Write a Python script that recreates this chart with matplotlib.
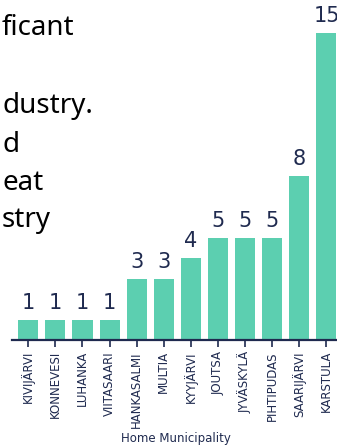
import matplotlib.pyplot as plt

# data
municipios = ["KIVIJÄRVI", "KONNEVESI", "LUHANKA", "VIITASAARI", "HANKASALMI",
              "MULTIA", "KYYJÄRVI", "JOUTSA", "JYVÄSKYLÄ", "PIHTIPUDAS",
              "SAARIJÄRVI", "KARSTULA"]
contagens = [1, 1, 1, 1, 3, 3, 4, 5, 5, 5, 8, 15]

# slide text behind the chart (only the part visible at the left edge)
linhas_slide = ["ficant", "dustry.", "d", "eat", "stry"]
base_linhas = [35, 113, 152, 190, 227]  # baseline, px from top

COR_BARRA = "#5ccfb0"
COR_TEXTO = "#1f2a4f"

W, H = 337, 446
fig = plt.figure(figsize=(W / 100, H / 100), dpi=100)

# axes placed in pixels
x0, x1 = 12, 340
y_base, y_top = 340, 12
ax = fig.add_axes([x0 / W, 1 - y_base / H, (x1 - x0) / W, (y_base - y_top) / H])

pos = range(len(municipios))
barras = ax.bar(pos, contagens, width=0.74, color=COR_BARRA, zorder=2)
ax.bar_label(barras, padding=5, fontsize=15, color=COR_TEXTO)

ax.set_xlim(-0.6, 11.5)
ax.set_ylim(0, 16)
ax.set_xticks(list(pos))
ax.set_xticklabels(municipios, rotation=90, fontsize=8.5, color=COR_TEXTO)
ax.set_yticks([])
ax.set_xlabel("Home Municipality", fontsize=8.5, color=COR_TEXTO, labelpad=3)
ax.tick_params(axis="x", length=5, width=1.2, color=COR_TEXTO, pad=3)

for lado in ["top", "right", "left"]:
    ax.spines[lado].set_visible(False)
ax.spines["bottom"].set_color(COR_TEXTO)
ax.spines["bottom"].set_linewidth(1.6)
ax.patch.set_alpha(0)

for txt, yb in zip(linhas_slide, base_linhas):
    fig.text(2 / W, 1 - yb / H, txt, ha="left", va="baseline",
             fontsize=20, family="Noto Sans", color="black")

fig.savefig("out.png", dpi=100)
